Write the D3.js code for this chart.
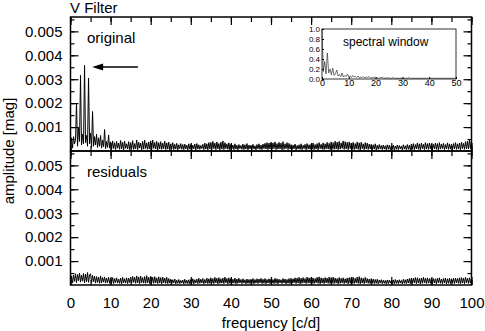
<!DOCTYPE html>
<html>
<head>
<meta charset="utf-8">
<script src="https://cdn.jsdelivr.net/npm/d3@7"></script>
<style>
  body { margin: 0; background: #fff; }
  svg { display: block; }
  text { font-family: "Liberation Sans", Arial, sans-serif; fill: #000; }
</style>
</head>
<body>
<div id="graph-container"></div>
<script>

// ---- data ----
// amplitude spectra in units of 1e-5 mag, sampled every 0.25 c/d from 0 to 100
var freq_step = 0.25;

var original_amp = [
  20, 55, 12, 60, 30, 45, 200, 20, 100, 40, 317, 25, 70, 30, 358, 35, 65, 20, 305, 30,
  75, 15, 165, 20, 60, 25, 70, 15, 55, 20, 65, 12, 45, 18, 90, 10, 40, 15, 67, 12,
  38, 8, 42, 10, 35, 6, 40, 12, 33, 7, 44, 9, 36, 5, 41, 11, 30, 8, 39, 6,
  35, 10, 43, 7, 31, 9, 46, 6, 37, 12, 33, 5, 40, 8, 45, 10, 34, 7, 38, 9,
  42, 6, 46, 11, 36, 8, 40, 5, 35, 9, 39, 7, 33, 10, 41, 6, 34, 8, 37, 5,
  30, 9, 35, 6, 28, 8, 32, 5, 26, 10, 31, 7, 27, 6, 29, 9, 25, 5, 30, 8,
  27, 6, 24, 9, 29, 5, 31, 8, 26, 7, 23, 10, 28, 6, 33, 8, 30, 5, 35, 9,
  36, 7, 40, 10, 33, 6, 38, 9, 31, 5, 37, 8, 42, 6, 35, 10, 30, 7, 34, 5,
  28, 9, 25, 6, 30, 8, 24, 5, 27, 10, 23, 7, 29, 6, 26, 8, 31, 5, 25, 9,
  24, 6, 28, 8, 22, 5, 27, 9, 30, 7, 25, 6, 29, 10, 32, 8, 35, 6, 33, 9,
  37, 7, 34, 10, 38, 6, 31, 8, 36, 9, 33, 5, 39, 7, 30, 10, 35, 6, 32, 8,
  27, 6, 25, 9, 29, 5, 23, 8, 26, 7, 30, 6, 24, 10, 28, 5, 31, 8, 26, 7,
  29, 9, 33, 6, 27, 8, 31, 5, 35, 10, 28, 7, 34, 6, 30, 9, 36, 8, 32, 6,
  38, 10, 35, 7, 41, 9, 37, 6, 40, 8, 34, 11, 42, 7, 39, 9, 36, 6, 38, 10,
  33, 8, 36, 6, 31, 9, 38, 7, 34, 5, 37, 10, 30, 6, 35, 8, 33, 7, 29, 9,
  28, 6, 26, 8, 30, 5, 24, 7, 27, 9, 23, 6, 25, 8, 22, 5, 26, 7, 24, 6,
  22, 8, 24, 5, 21, 7, 25, 6, 23, 9, 20, 5, 26, 8, 22, 6, 27, 7, 24, 5,
  29, 8, 31, 6, 27, 9, 34, 7, 30, 5, 33, 10, 28, 6, 35, 8, 31, 7, 33, 9,
  30, 6, 28, 9, 33, 7, 31, 5, 35, 8, 29, 10, 32, 6, 27, 9, 34, 7, 30, 8,
  28, 6, 31, 9, 35, 7, 30, 8, 33, 5, 37, 10, 32, 7, 39, 9, 41, 8, 45, 10,
  44
];

var residual_amp = [
  12, 38, 8, 42, 15, 47, 10, 44, 18, 50, 12, 41, 16, 48, 9, 45, 14, 52, 11, 43,
  46, 10, 40, 13, 37, 8, 35, 11, 33, 7, 38, 9, 31, 12, 34, 8, 29, 10, 32, 7,
  28, 9, 31, 6, 27, 10, 30, 8, 25, 7, 29, 5, 32, 9, 26, 8, 30, 6, 28, 10,
  33, 8, 36, 11, 32, 7, 38, 9, 34, 6, 37, 10, 31, 8, 35, 7, 39, 9, 33, 6,
  36, 10, 32, 7, 35, 9, 30, 6, 34, 8, 31, 5, 33, 9, 29, 7, 32, 6, 27, 8,
  24, 6, 22, 8, 25, 5, 20, 7, 23, 6, 19, 8, 21, 5, 24, 7, 20, 6, 22, 5,
  23, 7, 26, 5, 22, 8, 25, 6, 28, 7, 24, 9, 27, 5, 23, 8, 29, 6, 26, 7,
  30, 8, 27, 6, 32, 9, 28, 5, 31, 7, 26, 8, 29, 6, 33, 9, 27, 5, 30, 7,
  27, 6, 24, 8, 29, 5, 25, 7, 28, 9, 23, 6, 26, 8, 22, 5, 25, 7, 23, 6,
  24, 7, 27, 5, 23, 8, 26, 6, 25, 9, 28, 6, 24, 7, 27, 5, 23, 8, 26, 6,
  25, 8, 23, 6, 28, 7, 26, 5, 24, 9, 22, 6, 27, 8, 25, 5, 23, 7, 27, 6,
  28, 7, 26, 9, 30, 6, 29, 8, 32, 5, 28, 7, 31, 9, 27, 6, 33, 8, 30, 7,
  31, 8, 29, 6, 27, 9, 32, 7, 34, 5, 30, 8, 28, 6, 31, 9, 29, 7, 33, 6,
  31, 9, 33, 6, 29, 8, 27, 5, 31, 7, 28, 9, 30, 6, 26, 8, 29, 5, 31, 7,
  30, 8, 32, 6, 28, 9, 33, 7, 35, 5, 30, 8, 28, 6, 32, 9, 27, 7, 25, 6,
  27, 8, 25, 6, 23, 7, 24, 5, 21, 8, 22, 6, 20, 7, 19, 5, 21, 6, 20, 8,
  19, 6, 21, 5, 23, 7, 20, 6, 22, 8, 19, 5, 24, 7, 22, 6, 25, 8, 27, 6,
  29, 7, 28, 9, 31, 6, 30, 8, 27, 5, 29, 7, 32, 9, 28, 6, 30, 8, 27, 7,
  29, 6, 27, 8, 26, 5, 28, 9, 30, 7, 25, 6, 27, 8, 29, 5, 26, 7, 28, 6,
  26, 8, 28, 6, 29, 9, 27, 7, 30, 5, 31, 8, 29, 6, 32, 9, 28, 7, 30, 8,
  29
];

// spectral window (relative amplitude, every 0.5 c/d from 0 to 50)
var window_step = 0.5;
var window_amp = [
  1.0, 0.15, 0.35, 0.1, 0.52, 0.12, 0.2, 0.08, 0.22, 0.07,
  0.1, 0.18, 0.06, 0.09, 0.05, 0.12, 0.04, 0.07, 0.05, 0.1,
  0.04, 0.06, 0.03, 0.07, 0.04, 0.05, 0.03, 0.06, 0.02, 0.04,
  0.03, 0.05, 0.02, 0.04, 0.03, 0.05, 0.02, 0.03, 0.02, 0.04,
  0.02, 0.03, 0.01, 0.03, 0.02, 0.04, 0.01, 0.02, 0.02, 0.03,
  0.01, 0.02, 0.01, 0.03, 0.01, 0.02, 0.01, 0.02, 0.01, 0.02,
  0.01, 0.02, 0.01, 0.02, 0.01, 0.03, 0.01, 0.02, 0.01, 0.02,
  0.01, 0.02, 0.01, 0.02, 0.01, 0.02, 0.01, 0.02, 0.01, 0.02,
  0.01, 0.02, 0.01, 0.02, 0.01, 0.02, 0.01, 0.02, 0.01, 0.02,
  0.01, 0.02, 0.01, 0.02, 0.01, 0.02, 0.01, 0.02, 0.01, 0.02,
  0.01
];

var amp_ticks = [0.001, 0.002, 0.003, 0.004, 0.005];
var freq_ticks = [0, 10, 20, 30, 40, 50, 60, 70, 80, 90, 100];
var window_x_ticks = [0, 10, 20, 30, 40, 50];
var window_y_ticks = [0.0, 0.2, 0.4, 0.6, 0.8, 1.0];

// ---- layout ----
var W = 485, H = 331;
var left = 70.5, right = 471.5;
var top_panel = [17, 151], bottom_panel = [151, 285];

var svg = d3.select('#graph-container').append('svg').attr('width', W).attr('height', H);

var x = d3.scaleLinear().domain([0, 100]).range([left, right]);

function fix_text(sel, size) {
    sel.attr('font-family', null).attr('font-size', null);
    sel.selectAll('text').style('font-size', size + 'px');
    sel.select('.domain').remove();
}

function panel(y_range, values, label, show_x_labels) {
    var y = d3.scaleLinear().domain([0, 0.0056]).range([y_range[1], y_range[0]]);
    var g = svg.append('g');

    var line = d3.line().x((d, i) => x(i * freq_step)).y(d => y(d * 1e-5));
    g.append('path').datum(values)
        .attr('d', line).attr('fill', 'none').attr('stroke', '#000').attr('stroke-width', 1);

    var minor_y = d3.range(1, 12).map(d => d * 0.0005);
    var minor_x = d3.range(0, 101, 5);

    // left
    g.append('g').attr('transform', `translate(${left},0)`)
        .call(d3.axisLeft(y).tickValues(minor_y).tickSize(-4).tickSizeOuter(0).tickFormat(''))
        .call(s => fix_text(s, 15));
    g.append('g').attr('transform', `translate(${left},0)`)
        .call(d3.axisLeft(y).tickValues(amp_ticks).tickSize(-8).tickSizeOuter(0).tickPadding(8).tickFormat(d3.format('.3f')))
        .call(s => fix_text(s, 15));
    // right
    g.append('g').attr('transform', `translate(${right},0)`)
        .call(d3.axisRight(y).tickValues(minor_y).tickSize(-4).tickSizeOuter(0).tickFormat(''))
        .call(s => fix_text(s, 15));
    g.append('g').attr('transform', `translate(${right},0)`)
        .call(d3.axisRight(y).tickValues(amp_ticks).tickSize(-8).tickSizeOuter(0).tickFormat(''))
        .call(s => fix_text(s, 15));
    // top
    g.append('g').attr('transform', `translate(0,${y_range[0]})`)
        .call(d3.axisTop(x).tickValues(minor_x).tickSize(-5).tickSizeOuter(0).tickFormat(''))
        .call(s => fix_text(s, 15));
    g.append('g').attr('transform', `translate(0,${y_range[0]})`)
        .call(d3.axisTop(x).tickValues(freq_ticks).tickSize(-8).tickSizeOuter(0).tickFormat(''))
        .call(s => fix_text(s, 15));
    // bottom
    g.append('g').attr('transform', `translate(0,${y_range[1]})`)
        .call(d3.axisBottom(x).tickValues(minor_x).tickSize(-5).tickSizeOuter(0).tickFormat(''))
        .call(s => fix_text(s, 15));
    g.append('g').attr('transform', `translate(0,${y_range[1]})`)
        .call(d3.axisBottom(x).tickValues(freq_ticks).tickSize(-8).tickSizeOuter(0).tickPadding(12)
              .tickFormat(show_x_labels ? d3.format('d') : ''))
        .call(s => fix_text(s, 15));

    g.selectAll('.tick line').attr('stroke-width', 1.2);

    g.append('rect')
        .attr('x', left).attr('y', y_range[0])
        .attr('width', right - left).attr('height', y_range[1] - y_range[0])
        .attr('fill', 'none').attr('stroke', '#000').attr('stroke-width', 1.5);

    g.append('text').attr('x', 87).attr('y', y_range[0] + 26).style('font-size', '15px').text(label);
    return g;
}

panel(top_panel, original_amp, 'original', false);
panel(bottom_panel, residual_amp, 'residuals', true);

// arrow pointing at the main peak
var arrow_y = 67, arrow_tip = x(5.4), arrow_tail = x(16.8);
svg.append('line')
    .attr('x1', arrow_tip + 8).attr('x2', arrow_tail).attr('y1', arrow_y).attr('y2', arrow_y)
    .attr('stroke', '#000').attr('stroke-width', 1.3);
svg.append('path')
    .attr('d', `M${arrow_tip},${arrow_y}L${arrow_tip + 11},${arrow_y - 3.5}L${arrow_tip + 11},${arrow_y + 3.5}Z`)
    .attr('fill', '#000');

// titles
svg.append('text').attr('x', 70).attr('y', 13).style('font-size', '15px').text('V Filter');
svg.append('text').attr('x', (left + right) / 2).attr('y', 328)
    .attr('text-anchor', 'middle').style('font-size', '15px').text('frequency [c/d]');
svg.append('text').attr('transform', 'translate(14,151) rotate(-90)')
    .attr('text-anchor', 'middle').style('font-size', '15px').text('amplitude [mag]');

// ---- spectral window inset ----
var ix = d3.scaleLinear().domain([0, 50]).range([322, 456]);
var iy = d3.scaleLinear().domain([0, 1]).range([79, 29]);
var inset = svg.append('g');
inset.append('rect').attr('x', 322).attr('y', 29).attr('width', 134).attr('height', 50).attr('fill', '#fff');
inset.append('path').datum(window_amp)
    .attr('d', d3.line().x((d, i) => ix(i * window_step)).y(d => iy(d)))
    .attr('fill', 'none').attr('stroke', '#333').attr('stroke-width', 0.7);
inset.append('g').attr('transform', 'translate(322,0)')
    .call(d3.axisLeft(iy).tickValues(window_y_ticks).tickSize(-2).tickSizeOuter(0).tickPadding(2).tickFormat(d3.format('.1f')))
    .call(s => fix_text(s, 8));
inset.append('g').attr('transform', 'translate(0,79)')
    .call(d3.axisBottom(ix).tickValues(window_x_ticks).tickSize(-2).tickSizeOuter(0).tickPadding(1).tickFormat(d3.format('d')))
    .call(s => fix_text(s, 9));
inset.append('rect').attr('x', 322).attr('y', 29).attr('width', 134).attr('height', 50)
    .attr('fill', 'none').attr('stroke', '#000').attr('stroke-width', 0.8);
inset.append('text').attr('x', 343).attr('y', 46).style('font-size', '12px').text('spectral window');

</script>
</body>
</html>
